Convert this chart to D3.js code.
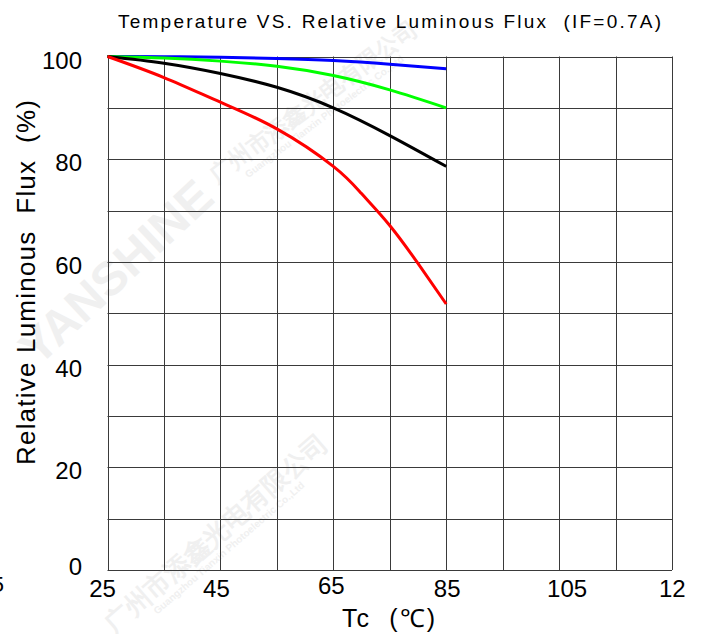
<!DOCTYPE html>
<html><head><meta charset="utf-8">
<script src="https://cdn.jsdelivr.net/npm/d3@7"></script>
<style>body{margin:0;background:#fff}svg{display:block}text{font-family:"Liberation Sans",Arial,sans-serif}</style>
</head><body>
<svg id="c" width="704" height="634"></svg>
<script>
const temps = [25, 35, 45, 55, 65, 75, 85];
const blueVals  = [100, 99.95, 99.85, 99.6, 99.2, 98.5, 97.6];
const greenVals = [100, 99.7, 99.1, 98.1, 96.3, 93.5, 90.0];
const blackVals = [100, 98.7, 96.7, 94.0, 90.0, 84.6, 78.6];
const redTemps  = [25, 35, 45, 55, 65, 70, 75, 80, 85];
const redVals   = [100, 95.9, 91.1, 85.9, 78.6, 73.3, 67.1, 59.7, 51.8];
const xTickVals = [25, 45, 65, 85, 105, 125];
const xTickLabels = ["25", "45", "65", "85", "105", "12"];
const yTickVals = [0, 20, 40, 60, 80, 100];
const xGrid = [25, 35, 45, 55, 65, 75, 85, 95, 105, 115, 125];
const yGrid = [0, 10, 20, 30, 40, 50, 60, 70, 80, 90, 100];

const svg = d3.select("#c");
const x = d3.scaleLinear().domain([25, 125]).range([107.5, 672]);
const y = d3.scaleLinear().domain([0, 100]).range([570, 56.5]);

// faint watermark
const wm = svg.append("g").attr("fill", "#f0f0f0");
wm.append("text").attr("transform", "translate(116,272) rotate(-43)")
  .attr("text-anchor", "middle").attr("dominant-baseline", "central")
  .attr("font-size", 48).attr("font-weight", "bold")
  .text("YANSHINE");
[[318, 108, -37, 23], [222, 540, -41, 26]].forEach(([cx, cy, a, fs]) => {
  const g = wm.append("g").attr("transform", `translate(${cx},${cy}) rotate(${a})`);
  g.append("text").attr("text-anchor", "middle").attr("font-size", fs)
    .attr("font-family", "Noto Sans CJK SC").attr("font-weight", "bold").text("广州市添鑫光电有限公司");
  g.append("text").attr("text-anchor", "middle").attr("y", 14).attr("font-size", 10)
    .attr("font-weight", "bold").text("Guangzhou Tianxin Photoelectric Co.,Ltd");
});

// grid
const grid = svg.append("g").attr("stroke", "#3a3a3a").attr("stroke-width", 1);
grid.selectAll("line.v").data(xGrid).join("line")
  .attr("x1", d => Math.round(x(d)) + 0.5).attr("x2", d => Math.round(x(d)) + 0.5)
  .attr("y1", y(100)).attr("y2", y(0));
grid.selectAll("line.h").data(yGrid).join("line")
  .attr("y1", d => Math.round(y(d)) + 0.5).attr("y2", d => Math.round(y(d)) + 0.5)
  .attr("x1", x(25)).attr("x2", x(125));

// curves
const line = d3.line().x(d => x(d[0])).y(d => y(d[1])).curve(d3.curveNatural);
const series = [
  {t: temps, v: blueVals, c: "#0000ff"},
  {t: temps, v: greenVals, c: "#00ff00"},
  {t: temps, v: blackVals, c: "#000000"},
  {t: redTemps, v: redVals, c: "#ff0000"}
];
series.forEach(s => {
  svg.append("path").datum(s.t.map((t, i) => [t, s.v[i]]))
    .attr("d", line).attr("fill", "none").attr("stroke", s.c).attr("stroke-width", 3);
});

// tick labels
svg.selectAll("text.yt").data(yTickVals).join("text").attr("class", "yt")
  .attr("x", 82).attr("y", d => Math.min(y(d) + 12, 575))
  .attr("text-anchor", "end").attr("font-size", 24).attr("fill", "#000").text(d => d);
svg.selectAll("text.xt").data(xTickVals).join("text").attr("class", "xt")
  .attr("x", (d, i) => i === 5 ? x(d) - 13 : x(d) + [-5, -4, -2, 1, 8][i])
  .attr("y", (d, i) => i === 2 ? 594 : 597)
  .attr("text-anchor", (d, i) => i === 5 ? "start" : "middle")
  .attr("font-size", 24).attr("fill", "#000").text((d, i) => xTickLabels[i]);
svg.append("text").attr("x", 4).attr("y", 592).attr("text-anchor", "end")
  .attr("font-size", 22).text("5");

// titles
svg.append("text").attr("x", 118).attr("y", 28).attr("font-size", 19)
  .attr("textLength", 543).attr("lengthAdjust", "spacing").attr("xml:space", "preserve")
  .text("Temperature VS. Relative Luminous Flux  (IF=0.7A)");
svg.append("text").attr("x", 342).attr("y", 627).attr("font-size", 25)
  .attr("textLength", 93).attr("lengthAdjust", "spacing")
  .attr("xml:space", "preserve").text("Tc  (℃)");
svg.append("text").attr("transform", "translate(35,465) rotate(-90)")
  .attr("font-size", 26).attr("xml:space", "preserve")
  .attr("textLength", 365).attr("lengthAdjust", "spacing")
  .text("Relative Luminous  Flux  (%)");
</script>
</body></html>
